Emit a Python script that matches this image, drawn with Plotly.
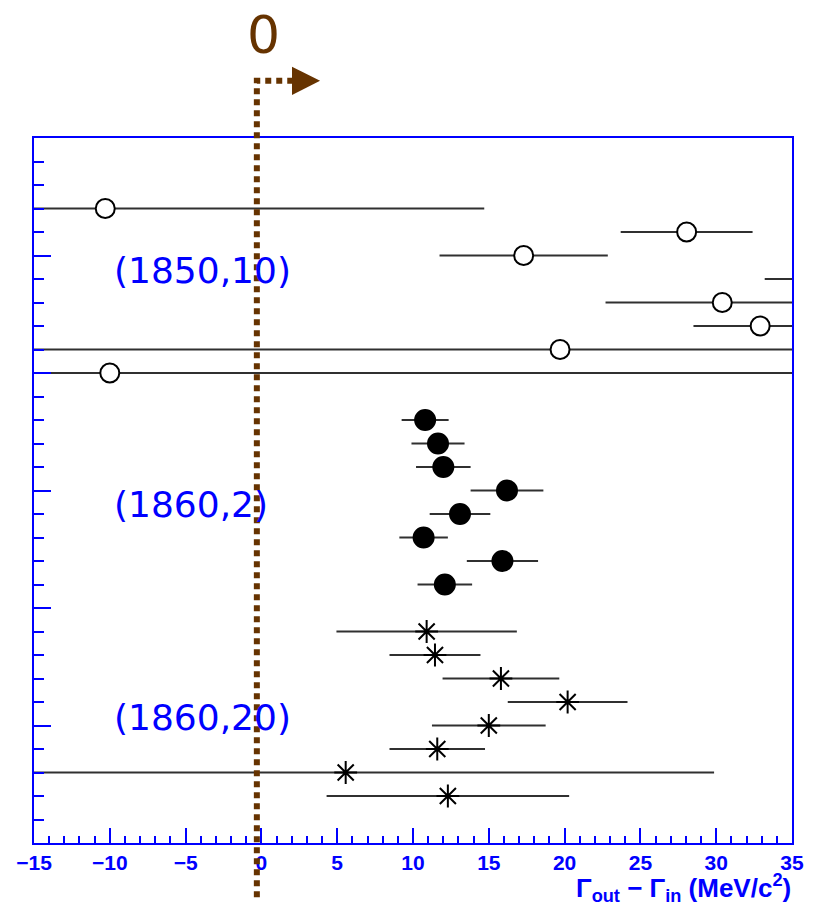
import plotly.graph_objects as go

# Γ_out − Γ_in per entry, grouped by (mass, width) hypothesis; y is the row index
rows_1850_10 = [27, 26, 25, 24, 23, 22, 21, 20]
diff_1850_10 = [-10.3, 28.05, 17.3, 39.0, 30.4, 32.9, 19.7, -10.0]
err_1850_10 = [25.0, 4.35, 5.55, 5.8, 7.7, 4.4, 40.0, 50.0]

rows_1860_2 = [18, 17, 16, 15, 14, 13, 12, 11]
diff_1860_2 = [10.8, 11.65, 12.0, 16.2, 13.1, 10.7, 15.9, 12.1]
err_1860_2 = [1.55, 1.75, 1.8, 2.4, 2.0, 1.6, 2.35, 1.8]

rows_1860_20 = [9, 8, 7, 6, 5, 4, 3, 2]
diff_1860_20 = [10.9, 11.45, 15.8, 20.2, 15.0, 11.6, 5.56, 12.3]
err_1860_20 = [5.95, 3.0, 3.85, 3.95, 3.75, 3.15, 24.3, 8.0]

group_labels = ["(1850,10)", "(1860,2)", "(1860,20)"]
group_label_rows = [24.35, 14.4, 5.35]

x_ticks = [-15, -10, -5, 0, 5, 10, 15, 20, 25, 30, 35]
x_tick_text = [str(v).replace("-", "\u2212") for v in x_ticks]

BLUE = "#0000ff"
BROWN = "#663300"
BAR = "#303030"

fig = go.Figure()


def add_series(xs, ys, errs, symbol, fill, size, name):
    fig.add_trace(go.Scatter(
        x=xs, y=ys, mode="markers", name=name,
        error_x=dict(type="data", array=errs, symmetric=True,
                     color=BAR, thickness=2, width=0),
        marker=dict(symbol=symbol, size=size, color=fill,
                    line=dict(color="black", width=2)),
        showlegend=False,
    ))


add_series(diff_1850_10, rows_1850_10, err_1850_10, "circle", "white", 19, group_labels[0])
add_series(diff_1860_2, rows_1860_2, err_1860_2, "circle", "black", 20, group_labels[1])
add_series(diff_1860_20, rows_1860_20, err_1860_20, "asterisk-open", "black", 19, group_labels[2])

for label, row in zip(group_labels, group_label_rows):
    fig.add_annotation(
        x=-9.85, y=row, xref="x", yref="y", text=label, showarrow=False,
        xanchor="left", yanchor="middle",
        font=dict(family="DejaVu Sans", size=36, color=BLUE),
    )

# Axis title, right-aligned under the frame
fig.add_annotation(
    x=1.0, y=-0.0908, xref="paper", yref="paper", xanchor="right", yanchor="bottom",
    text="Γ<sub>out</sub> − Γ<sub>in</sub> (MeV/c<sup>2</sup>)", showarrow=False,
    font=dict(family="Liberation Sans", size=26, color=BLUE, weight="bold"),
    borderpad=0,
)

# Dotted marker at zero with an arrow pointing to positive values
ZERO_X = -0.3
CORNER_Y = 1.0813
fig.add_shape(
    type="path", xref="x", yref="paper",
    path=f"M {ZERO_X},-0.077 L {ZERO_X},{CORNER_Y} L 2.05,{CORNER_Y}",
    line=dict(color=BROWN, width=6, dash="6px,5px"),
)
fig.add_shape(
    type="path", xref="x", yref="paper",
    path=f"M 2.02,1.101 L 3.87,{CORNER_Y} L 2.02,1.061 Z",
    fillcolor=BROWN, line=dict(color=BROWN, width=0),
)
fig.add_annotation(
    x=0.15, y=1.1468, xref="x", yref="paper", text="0", showarrow=False,
    xanchor="center", yanchor="middle", borderpad=0,
    font=dict(family="DejaVu Sans", size=52, color=BROWN),
)

fig.update_layout(
    width=818, height=908,
    margin=dict(l=34, r=26, t=138, b=65),
    paper_bgcolor="white", plot_bgcolor="white",
    xaxis=dict(
        range=[-15, 35], tickvals=x_ticks, ticktext=x_tick_text,
        showgrid=False, zeroline=False,
        showline=True, mirror=True, linecolor=BLUE, linewidth=2,
        ticks="inside", ticklen=15, tickwidth=2, tickcolor=BLUE,
        minor=dict(dtick=1, tick0=0, ticks="inside", ticklen=7, tickwidth=2,
                   tickcolor=BLUE, showgrid=False),
        tickfont=dict(family="Liberation Sans", size=21, color=BLUE, weight="bold"),
    ),
    yaxis=dict(
        range=[0, 30], dtick=5, tick0=0,
        showgrid=False, zeroline=False, showticklabels=False,
        showline=True, mirror=True, linecolor=BLUE, linewidth=2,
        ticks="inside", ticklen=17, tickwidth=2, tickcolor=BLUE,
        minor=dict(dtick=1, tick0=0, ticks="inside", ticklen=10, tickwidth=2,
                   tickcolor=BLUE, showgrid=False),
    ),
)

fig.write_html("out.html")
